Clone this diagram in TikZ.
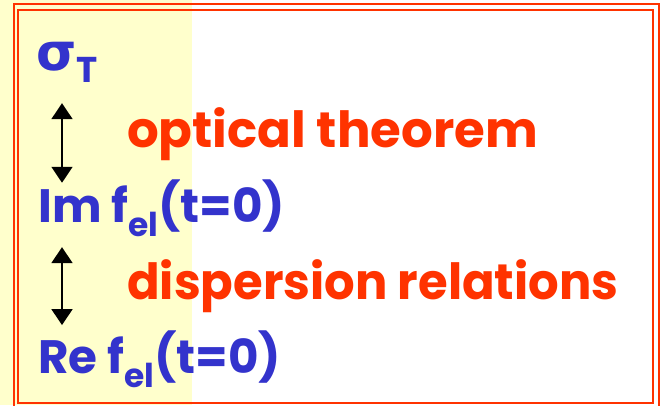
\documentclass[tikz,border=0pt]{standalone}
\usepackage{fontspec}
\setmainfont{Poppins}
\newfontfamily\greekfont{DejaVu Sans}
\usepackage{xcolor}
\definecolor{slideblue}{rgb}{0.2,0.2,0.8}
\definecolor{slidered}{rgb}{1,0.2,0}
\definecolor{slideyellow}{rgb}{1,1,0.8}
\usetikzlibrary{arrows.meta, calc}

\begin{document}
\begin{tikzpicture}[x=1bp, y=-1bp,
  qty/.style={anchor=base west, inner sep=0pt, text=slideblue, font=\fontsize{47}{47}\selectfont\bfseries},
  rel/.style={anchor=base west, inner sep=0pt, text=slidered, font=\fontsize{50}{50}\selectfont\bfseries},
  frame/.style={draw=slidered, line width=2bp},
  biarrow/.style={{Triangle[width=21bp,length=16bp]}-{Triangle[width=21bp,length=16bp]}, line width=2bp, black},
]
\useasboundingbox (0,0) rectangle (660,405);
\fill[slideyellow] (0,0) rectangle (192,405);
\fill[white] (192,0) rectangle (660,405);
% double frame
\draw[frame] (13.5,4) rectangle (658.5,408);
\draw[frame] (18,9.5) rectangle (653,402.5);
% quantities
\node[qty] (sig) at (36,70) {{\greekfont\fontsize{52}{52}\selectfont σ}\raisebox{-12bp}{\fontsize{36}{36}\selectfont T}};
\node[qty] (im) at (38,222.7) {Im f\raisebox{-14bp}{\fontsize{33}{33}\selectfont el}(t=0)};
\node[qty] (re) at (38,373) {Re f\raisebox{-14bp}{\fontsize{33}{33}\selectfont el}(t=0)};
% relations
\node[rel] (opt) at (127,147) {optical theorem};
\node[rel] (disp) at (127,299) {\scalebox{0.965}[1]{dispersion relations}};
\coordinate (ax) at (62,0);
\draw[biarrow] (sig.south -| ax) ++(0,21) -- ($(im.north -| ax)+(0,3)$);
\draw[biarrow] ($(im.south -| ax)+(0,10)$) -- ($(re.north -| ax)+(0,-5)$);
\end{tikzpicture}
\end{document}
